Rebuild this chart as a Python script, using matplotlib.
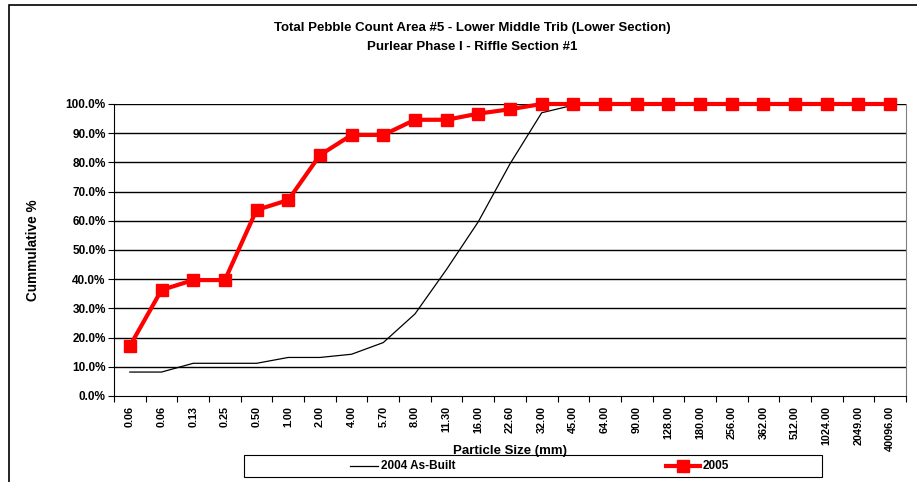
import matplotlib
matplotlib.use("Agg")
import matplotlib.pyplot as plt
from matplotlib.patches import Rectangle
from matplotlib.lines import Line2D

plt.rcParams['font.family'] = ['Liberation Sans', 'DejaVu Sans']

sizes = ["0.06", "0.06", "0.13", "0.25", "0.50", "1.00", "2.00", "4.00", "5.70",
         "8.00", "11.30", "16.00", "22.60", "32.00", "45.00", "64.00", "90.00",
         "128.00", "180.00", "256.00", "362.00", "512.00", "1024.00", "2049.00",
         "40096.00"]
as_built_2004 = [8.2, 8.2, 11.2, 11.2, 11.2, 13.2, 13.2, 14.3, 18.3, 28.1, 43.4,
                 59.7, 79.5, 97.0, 99.6, 100, 100, 100, 100, 100, 100, 100, 100,
                 100, 100]
survey_2005 = [17.1, 36.3, 39.7, 39.7, 63.7, 67.1, 82.5, 89.4, 89.4, 94.6, 94.6,
               96.7, 98.2, 100, 100, 100, 100, 100, 100, 100, 100, 100, 100, 100,
               100]
y_ticks = [0, 10, 20, 30, 40, 50, 60, 70, 80, 90, 100]

W, H = 917, 482
fig = plt.figure(figsize=(W / 100, H / 100), dpi=100)

# outer chart frame (runs off the right and bottom edges)
fig.patches.append(Rectangle((9 / W, -0.02), 1.0, 1 - 5 / H + 0.02,
                             transform=fig.transFigure, fill=False,
                             edgecolor='black', linewidth=1.2, zorder=0))

ax = fig.add_axes([114 / W, 1 - 396 / H, (906 - 114) / W, (396 - 104) / H])
x = list(range(len(sizes)))

for v in y_ticks[1:]:
    ax.axhline(v, color='black', linewidth=1.0, zorder=1)

ax.plot(x, as_built_2004, color='black', linewidth=0.9, zorder=3)
ax.plot(x, survey_2005, color='#ff0000', linewidth=3, marker='s',
        markersize=9, markerfacecolor='#ff0000', markeredgecolor='#ff0000',
        zorder=4, clip_on=False)

ax.set_xlim(-0.5, len(sizes) - 0.5)
ax.set_ylim(0, 100)
ax.set_yticks(y_ticks)
ax.set_yticklabels([f"{v:.1f}%" for v in y_ticks], fontsize=8.5,
                   fontweight='bold')
ax.set_xticks(x)
ax.set_xticklabels(sizes, rotation=90, fontsize=7.8, fontweight='bold')
ax.tick_params(axis='x', length=0, pad=7)
ax.set_xticks([i - 0.5 for i in range(len(sizes) + 1)], minor=True)
ax.tick_params(axis='x', which='minor', length=4, width=0.8, direction='out')
ax.tick_params(axis='y', length=4, width=0.8, direction='out', pad=2)

ax.spines['top'].set_visible(False)
ax.spines['right'].set_color('#808080')
ax.spines['left'].set_color('black')
ax.spines['bottom'].set_color('black')

fig.text(33 / W, 1 - 250 / H, "Cummulative %", rotation=90, ha='center',
         va='center', fontsize=9.8, fontweight='bold')

fig.text(472 / W, 1 - 28 / H, "Total Pebble Count Area #5 - Lower Middle Trib (Lower Section)",
         ha='center', va='center', fontsize=9.5, fontweight='bold')
fig.text(472 / W, 1 - 47 / H, "Purlear Phase I - Riffle Section #1",
         ha='center', va='center', fontsize=9.5, fontweight='bold')
fig.text(510 / W, 1 - 451 / H, "Particle Size (mm)", ha='center', va='center',
         fontsize=9.5, fontweight='bold')

# legend box
fig.patches.append(Rectangle((244 / W, 1 - 477 / H), (822 - 244) / W, 22 / H,
                             transform=fig.transFigure, fill=False,
                             edgecolor='black', linewidth=0.8))
fig.lines.append(Line2D([350 / W, 378 / W], [1 - 466 / H] * 2,
                        transform=fig.transFigure, color='black', linewidth=0.9))
fig.text(381 / W, 1 - 466 / H, "2004 As-Built", ha='left', va='center',
         fontsize=8.5, fontweight='bold')
fig.lines.append(Line2D([666 / W, 700 / W], [1 - 466 / H] * 2,
                        transform=fig.transFigure, color='#ff0000', linewidth=3))
fig.lines.append(Line2D([683 / W], [1 - 466 / H], transform=fig.transFigure,
                        color='#ff0000', marker='s', markersize=9, linestyle='none'))
fig.text(703 / W, 1 - 466 / H, "2005", ha='left', va='center',
         fontsize=8.5, fontweight='bold')

fig.savefig("out.png", dpi=100)
